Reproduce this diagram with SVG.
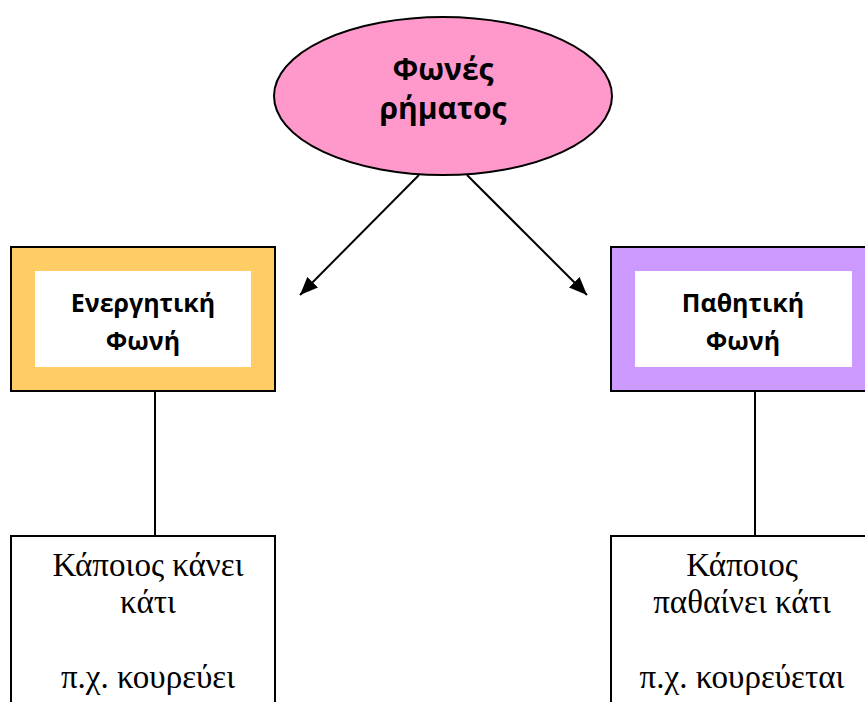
<svg xmlns="http://www.w3.org/2000/svg" width="865" height="702" viewBox="0 0 865 702">
<style>
.bold{font-family:"Open Sans","Noto Sans","DejaVu Sans",sans-serif;font-weight:bold;fill:#000;text-anchor:middle}
.serif{font-family:"Liberation Serif","Times New Roman",serif;font-size:33px;fill:#000;text-anchor:middle}
.frame{stroke:#000;stroke-width:2}
.conn{stroke:#000;stroke-width:2;fill:none}
</style>
<defs>
<marker id="arrow" viewBox="0 0 12 10" refX="12" refY="5" markerWidth="18" markerHeight="15" markerUnits="userSpaceOnUse" orient="auto">
<path d="M0,0 L12,5 L0,10 z" fill="#000"/>
</marker>
</defs>
<rect width="865" height="702" fill="#fff"/>
<g id="connectors">
<line class="conn" x1="419" y1="175" x2="300" y2="295" marker-end="url(#arrow)"/>
<line class="conn" x1="467" y1="175" x2="587" y2="295" marker-end="url(#arrow)"/>
<line class="conn" x1="155" y1="391" x2="155" y2="536"/>
<line class="conn" x1="755" y1="382" x2="755" y2="536"/>
</g>
<g id="root">
<ellipse cx="443" cy="96" rx="169" ry="79" fill="#FF99CC" class="frame"/>
<text class="bold" x="443" y="80" font-size="30">Φωνές</text>
<text class="bold" x="443" y="119" font-size="30">ρήματος</text>
</g>
<g id="active">
<rect x="11" y="247" width="264" height="144" fill="#FFCC66" class="frame"/>
<rect x="35" y="271" width="216" height="96" fill="#fff"/>
<text class="bold" x="143" y="312" font-size="25">Ενεργητική</text>
<text class="bold" x="143" y="350" font-size="25">Φωνή</text>
</g>
<g id="passive">
<rect x="611" y="247" width="264" height="144" fill="#CC99FF" class="frame"/>
<rect x="635" y="271" width="217" height="96" fill="#fff"/>
<text class="bold" x="743" y="312" font-size="25">Παθητική</text>
<text class="bold" x="743" y="350" font-size="25">Φωνή</text>
</g>
<g id="active-desc">
<rect x="11" y="536" width="264" height="180" fill="#fff" class="frame"/>
<text class="serif" x="148" y="576">Κάποιος κάνει</text>
<text class="serif" x="148" y="613">κάτι</text>
<text class="serif" x="148" y="688">π.χ. κουρεύει</text>
</g>
<g id="passive-desc">
<rect x="611" y="536" width="264" height="180" fill="#fff" class="frame"/>
<text class="serif" x="742" y="576">Κάποιος</text>
<text class="serif" x="742" y="613">παθαίνει κάτι</text>
<text class="serif" x="742" y="688">π.χ. κουρεύεται</text>
</g>
</svg>
